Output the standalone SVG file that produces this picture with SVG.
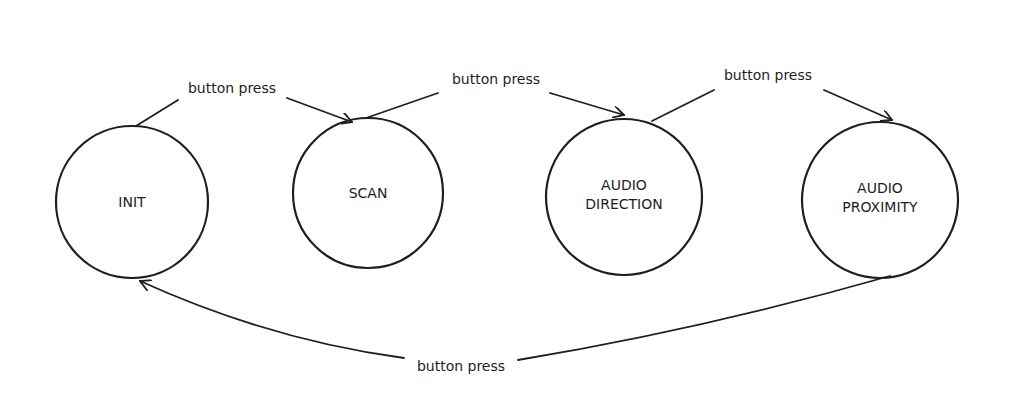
<svg xmlns="http://www.w3.org/2000/svg" width="1016" height="414" viewBox="0 0 1016 414">
<style>
.n{fill:none;stroke:#1e1e1e;stroke-width:2.2}
.c{fill:none;stroke:#1e1e1e;stroke-width:1.8;stroke-linecap:round}
text{font-family:"DejaVu Sans",sans-serif;font-size:14px;fill:#1e1e1e;text-anchor:middle}
</style>
<defs><marker id="a" viewBox="0 0 12 12" refX="11" refY="6" markerWidth="12" markerHeight="12" markerUnits="userSpaceOnUse" orient="auto"><path d="M0,0 L11,6 L0,12" fill="none" stroke="#1e1e1e" stroke-width="1.8"/></marker></defs>
<rect width="1016" height="414" fill="#fff"/>
<g id="init"><circle class="n" cx="132" cy="202" r="76"/><text x="132" y="207">INIT</text></g>
<g id="scan"><circle class="n" cx="368" cy="193" r="75"/><text x="368" y="198">SCAN</text></g>
<g id="dir"><circle class="n" cx="624" cy="197" r="78"/><text x="624" y="190">AUDIO</text><text x="624" y="209">DIRECTION</text></g>
<g id="prox"><circle class="n" cx="880" cy="200" r="78"/><text x="880" y="193">AUDIO</text><text x="880" y="212">PROXIMITY</text></g>
<g id="connectors">
<path class="c" d="M136,126 L178,100"/><path class="c" d="M287,98 L352,122" marker-end="url(#a)"/>
<text x="232" y="93">button press</text>
<path class="c" d="M366,118 L438,93"/><path class="c" d="M550,93 L624,115" marker-end="url(#a)"/>
<text x="496" y="84">button press</text>
<path class="c" d="M652,121 L714,90"/><path class="c" d="M824,90 L892,120" marker-end="url(#a)"/>
<text x="768" y="80">button press</text>
<path class="c" d="M890,276 Q700,330 518,360"/><path class="c" d="M404,358 Q270,340 140,281" marker-end="url(#a)"/>
<text x="461" y="371">button press</text>
</g>
</svg>
